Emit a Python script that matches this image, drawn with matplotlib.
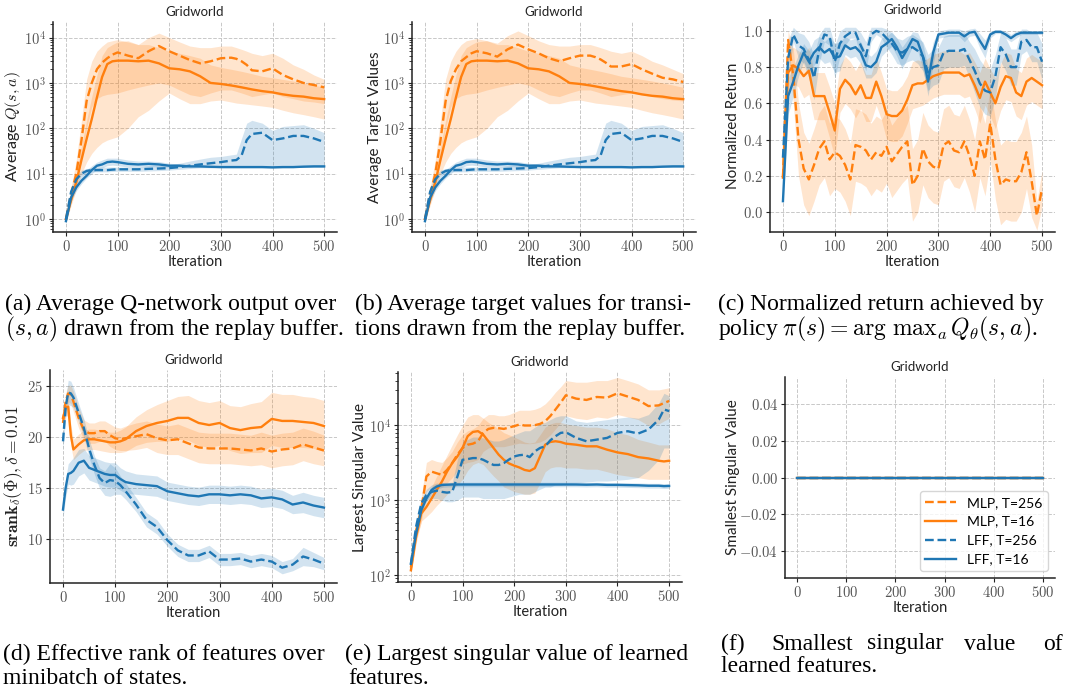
import numpy as np
import matplotlib
matplotlib.use('Agg')
import matplotlib.pyplot as plt
import matplotlib.ticker as ticker

plt.rcParams['font.family'] = ['Lato', 'DejaVu Sans']
plt.rcParams['mathtext.fontset'] = 'cm'

labels = ['MLP, T=256', 'MLP, T=16', 'LFF, T=256', 'LFF, T=16']
colors = ['#ff7f0e', '#ff7f0e', '#1f77b4', '#1f77b4']
styles = ['--', '-', '--', '-']

### (a) / (b) average Q and target values ###
x_q = [0, 10, 20, 30, 40, 50, 60, 70, 80, 90, 100, 120, 140, 160, 180, 200, 220, 240, 260, 280, 300, 320,
       330, 340, 350, 360, 380, 400, 420, 440, 460, 480, 500]

q_mlp256 = [1, 3.5, 10, 54, 400, 1000, 2000, 2800, 3500, 4200, 4700, 4000, 3500, 5000, 6500, 5000, 4000, 3200, 2700, 3000, 3500, 3600,
            3400, 3000, 2500, 1900, 1800, 2100, 1500, 1200, 1000, 900, 800]
q_mlp256_lo = [0.85, 2.5, 5, 20, 100, 300, 450, 520, 560, 580, 600, 700, 800, 900, 1000, 900, 700, 550, 500, 600, 700, 700,
               650, 600, 550, 500, 550, 600, 500, 450, 400, 380, 350]
q_mlp256_hi = [1.2, 5, 20, 150, 1200, 3000, 5000, 6500, 8000, 8500, 9000, 8000, 7000, 10000, 12500, 10000, 8000, 6500, 6000, 6000, 6500, 6500,
               6000, 5500, 5000, 4500, 4000, 4500, 3500, 2500, 2000, 1500, 1200]
q_mlp16 = [1, 2.6, 6.5, 20, 58, 160, 480, 1350, 2600, 3000, 3100, 3100, 3000, 3100, 2700, 2100, 2000, 1800, 1400, 1000, 950, 880,
           840, 800, 760, 720, 660, 620, 560, 520, 500, 460, 440]
q_mlp16_lo = [0.85, 2, 4.5, 10, 18, 28, 38, 48, 55, 60, 65, 100, 180, 250, 400, 600, 450, 350, 350, 400, 420, 380,
              360, 350, 340, 330, 310, 290, 250, 220, 200, 180, 160]
q_mlp16_hi = [1.2, 3.5, 10, 40, 150, 500, 1500, 4000, 6000, 7000, 8000, 8500, 7000, 7000, 6000, 5000, 4500, 4000, 3500, 2500, 2200, 2000,
              1900, 1800, 1700, 1600, 1400, 1300, 1200, 1100, 1000, 900, 800]
q_lff256 = [1, 4, 7.5, 10, 11.5, 12, 12, 12, 12, 12.3, 12.5, 12.5, 12.5, 12.8, 13, 13.3, 14, 15, 16, 17, 18, 19.5,
            20, 25, 55, 75, 80, 55, 60, 68, 68, 60, 50]
q_lff256_lo = [0.85, 3, 6, 9, 10.5, 11, 11, 11, 11, 11.2, 11.3, 11.3, 11.3, 11.5, 11.7, 12, 12.5, 13, 13.5, 13.5, 14, 14,
               14, 14, 14, 14, 14, 14, 14, 14, 14, 14, 14]
q_lff256_hi = [1.2, 5, 9, 12, 13, 13.5, 13.5, 14, 14, 14, 14, 14, 14, 15, 15, 16, 17, 19, 21, 23, 24, 26,
               27, 60, 130, 150, 130, 90, 110, 115, 120, 100, 80]
q_lff16 = [0.9, 3, 5, 7, 9, 12, 15, 16, 18, 18.5, 18, 16.5, 16, 16.5, 16, 15, 15, 14.5, 14.5, 14.2, 14, 14,
           14, 14, 14, 14, 14, 13.8, 14, 14, 14.3, 14.5, 14.5]
q_lff16_lo = [0.8, 2.5, 4.2, 6, 8, 10, 12.5, 13.5, 15, 15.5, 15, 14, 14, 14.5, 14, 14, 14, 13.8, 13.8, 13.6, 13.5, 13.5,
              13.5, 13.5, 13.5, 13.5, 13.5, 13.3, 13.5, 13.5, 13.8, 14, 14]
q_lff16_hi = [1.0, 3.6, 6, 9, 12, 15, 18, 20, 22, 22, 22, 20, 19, 19, 18.5, 17, 16.5, 15.5, 15.2, 15, 14.6, 14.6,
              14.6, 14.6, 14.6, 14.6, 14.6, 14.4, 14.6, 14.6, 14.9, 15, 15]

t_mlp256 = [1, 3.5, 10, 54, 400, 1100, 2000, 3000, 3700, 4500, 5000, 4500, 3800, 5500, 7000, 5500, 4500, 3500, 3000, 3500, 4000, 4000,
            3700, 3300, 2800, 2300, 2300, 2600, 2000, 1600, 1300, 1200, 1050]
t_mlp256_lo = [0.85, 2.5, 5, 20, 100, 300, 450, 520, 560, 580, 600, 700, 800, 900, 1000, 900, 700, 550, 500, 600, 700, 700,
               650, 600, 550, 500, 550, 600, 550, 500, 450, 420, 400]
t_mlp256_hi = [1.2, 5, 20, 150, 1200, 3000, 5000, 7000, 8500, 9000, 9500, 8500, 7500, 11000, 14000, 11000, 8500, 7000, 6500, 6500, 7000, 7000,
               6500, 6000, 5500, 5000, 4500, 5000, 4000, 3000, 2500, 2000, 1600]

### (c) normalized return ###
x_ret = list(range(0, 501, 10))
ret_mlp256 = [0.19, 0.95, 0.75, 0.40, 0.24, 0.18, 0.26, 0.35, 0.39, 0.29, 0.33, 0.31, 0.26, 0.18, 0.37, 0.36, 0.34, 0.29, 0.33, 0.31,
              0.36, 0.28, 0.32, 0.36, 0.39, 0.15, 0.20, 0.35, 0.28, 0.25, 0.24, 0.37, 0.39, 0.34, 0.33, 0.39, 0.31, 0.20, 0.39, 0.29,
              0.49, 0.29, 0.15, 0.18, 0.17, 0.17, 0.22, 0.33, 0.17, -0.02, 0.13]
ret_mlp256_sd = [0.05, 0.05, 0.15, 0.2, 0.2, 0.2, 0.2, 0.2, 0.2, 0.2, 0.2, 0.2, 0.2, 0.2, 0.2, 0.2, 0.2, 0.2, 0.2, 0.2,
                 0.2, 0.2, 0.2, 0.2, 0.2, 0.2, 0.2, 0.2, 0.2, 0.2, 0.2, 0.2, 0.2, 0.2, 0.2, 0.2, 0.2, 0.2, 0.2, 0.2,
                 0.2, 0.22, 0.22, 0.22, 0.22, 0.22, 0.22, 0.2, 0.2, 0.08, 0.1]
ret_mlp16 = [0.19, 0.77, 0.81, 0.79, 0.75, 0.78, 0.64, 0.64, 0.64, 0.55, 0.45, 0.68, 0.73, 0.70, 0.65, 0.70, 0.63, 0.63, 0.72, 0.64,
             0.54, 0.53, 0.53, 0.56, 0.62, 0.70, 0.71, 0.71, 0.73, 0.75, 0.76, 0.77, 0.77, 0.77, 0.77, 0.75, 0.76, 0.70, 0.63, 0.72,
             0.66, 0.60, 0.69, 0.75, 0.74, 0.66, 0.64, 0.72, 0.74, 0.72, 0.70]
ret_mlp16_sd = [0.05, 0.12, 0.1, 0.1, 0.12, 0.13, 0.13, 0.13, 0.13, 0.14, 0.15, 0.13, 0.13, 0.13, 0.13, 0.13, 0.13, 0.13, 0.13, 0.13,
                0.14, 0.14, 0.14, 0.14, 0.13, 0.13, 0.13, 0.12, 0.12, 0.12, 0.12, 0.12, 0.12, 0.12, 0.12, 0.12, 0.12, 0.13, 0.14, 0.13,
                0.13, 0.14, 0.13, 0.13, 0.13, 0.13, 0.13, 0.13, 0.13, 0.13, 0.13]
ret_lff256 = [0.30, 0.85, 0.98, 0.92, 0.90, 0.84, 0.74, 0.90, 0.98, 0.97, 0.83, 0.93, 0.97, 0.99, 0.99, 0.92, 0.86, 0.98, 1.0, 0.99,
              0.96, 0.93, 0.89, 0.88, 0.90, 0.91, 0.89, 0.86, 0.77, 0.80, 0.81, 0.88, 0.89, 0.89, 0.89, 0.90, 0.84, 0.78, 0.71, 0.67,
              0.66, 0.75, 0.91, 0.87, 0.80, 0.80, 0.94, 0.95, 0.91, 0.91, 0.83]
ret_lff256_sd = [0.05, 0.1, 0.04, 0.07, 0.08, 0.1, 0.12, 0.08, 0.04, 0.05, 0.09, 0.07, 0.05, 0.03, 0.03, 0.07, 0.08, 0.04, 0.02, 0.03,
                 0.05, 0.06, 0.07, 0.07, 0.07, 0.07, 0.07, 0.08, 0.1, 0.1, 0.1, 0.09, 0.09, 0.09, 0.09, 0.09, 0.1, 0.12, 0.13, 0.13,
                 0.13, 0.12, 0.08, 0.09, 0.1, 0.1, 0.07, 0.06, 0.08, 0.08, 0.1]
ret_lff16 = [0.06, 0.64, 0.72, 0.81, 0.88, 0.83, 0.88, 0.91, 0.88, 0.90, 0.85, 0.86, 0.92, 0.90, 0.91, 0.88, 0.81, 0.80, 0.83, 0.91,
             0.93, 0.955, 0.91, 0.85, 0.90, 0.955, 0.94, 0.86, 0.72, 0.88, 0.98, 0.985, 0.99, 0.99, 0.99, 0.97, 0.99, 0.995, 0.945, 0.90,
             0.98, 0.995, 0.995, 0.98, 0.96, 0.98, 0.99, 0.99, 0.99, 0.99, 0.99]
ret_lff16_sd = [0.02, 0.1, 0.08, 0.06, 0.05, 0.06, 0.07, 0.06, 0.06, 0.07, 0.08, 0.08, 0.05, 0.05, 0.05, 0.06, 0.07, 0.06, 0.06, 0.05,
                0.04, 0.04, 0.05, 0.06, 0.05, 0.04, 0.05, 0.07, 0.08, 0.06, 0.02, 0.02, 0.02, 0.02, 0.02, 0.03, 0.02, 0.02, 0.04, 0.05,
                0.02, 0.01, 0.01, 0.02, 0.02, 0.02, 0.01, 0.01, 0.01, 0.01, 0.01]

### (d) effective rank ###
x_rank = [0, 5, 10, 15, 20, 30, 40, 50, 60, 70, 80, 90, 100, 110, 120, 140, 160, 180, 200, 220, 240, 260, 280, 300,
          320, 340, 360, 380, 400, 420, 440, 460, 480, 500]
rank_mlp256 = [21.4, 23.5, 24.3, 24.2, 23.5, 21.9, 20.7, 20.4, 20.4, 20.6, 20.6, 20.2, 19.9, 19.8, 19.9, 20.1, 20.3, 19.9, 19.7, 19.8, 19.4, 19.0, 18.9, 18.9,
               18.9, 18.8, 18.7, 18.9, 18.6, 18.8, 18.9, 19.3, 19.0, 18.7]
rank_mlp256_sd = [0.8, 0.8, 0.8, 0.9, 1.0, 1.0, 1.0, 1.0, 1.0, 1.0, 1.0, 1.1, 1.1, 1.1, 1.2, 1.3, 1.3, 1.4, 1.4, 1.5, 1.5, 1.5, 1.5, 1.5,
                  1.5, 1.5, 1.5, 1.6, 1.6, 1.6, 1.6, 1.6, 1.6, 1.5]
rank_mlp16 = [21.9, 22.9, 23.0, 20.2, 18.8, 19.3, 19.7, 19.8, 19.8, 19.7, 19.6, 19.5, 19.5, 19.6, 19.8, 20.6, 21.1, 21.4, 21.6, 21.9, 21.9, 21.4, 21.2, 21.4,
              20.9, 20.7, 20.9, 21.0, 21.8, 21.6, 21.6, 21.5, 21.4, 21.1]
rank_mlp16_sd = [0.8, 0.8, 0.9, 1.0, 1.0, 1.0, 1.0, 1.0, 1.0, 1.0, 1.0, 1.0, 1.0, 1.1, 1.2, 1.4, 1.6, 1.8, 2.0, 2.1, 2.2, 2.2, 2.2, 2.2,
                 2.2, 2.3, 2.4, 2.5, 2.6, 2.6, 2.6, 2.5, 2.5, 2.5]
rank_lff256 = [19.6, 22.9, 24.4, 24.3, 23.9, 22.4, 20.9, 18.9, 17.3, 16.0, 15.5, 15.8, 15.7, 15.3, 14.7, 13.4, 11.9, 11.2, 9.9, 8.9, 8.4, 8.4, 8.8, 8.0,
               8.0, 8.1, 7.8, 8.0, 7.8, 7.2, 7.5, 8.3, 8.0, 7.6]
rank_lff256_sd = [0.8, 1.0, 1.2, 1.2, 1.0, 0.9, 0.9, 0.9, 0.9, 1.0, 1.2, 1.6, 1.3, 0.9, 0.8, 0.7, 0.7, 0.7, 0.6, 0.6, 0.6, 0.6, 0.6, 0.6,
                  0.6, 0.6, 0.6, 0.6, 0.6, 0.6, 0.6, 0.9, 0.7, 0.6]
rank_lff16 = [12.9, 15.0, 16.4, 16.5, 16.7, 17.5, 17.7, 17.0, 16.8, 16.6, 16.4, 16.3, 16.3, 15.9, 15.6, 15.4, 15.3, 15.2, 14.7, 14.5, 14.3, 14.2, 14.4, 14.4,
              14.3, 14.4, 14.3, 14.0, 14.1, 13.9, 13.4, 13.6, 13.3, 13.1]
rank_lff16_sd = [0.8, 0.9, 1.0, 1.2, 1.3, 1.3, 1.2, 1.2, 1.2, 1.2, 1.2, 1.2, 1.2, 1.1, 1.1, 1.0, 1.0, 1.0, 0.9, 0.9, 0.9, 0.9, 0.9, 0.9,
                 0.9, 0.9, 0.9, 0.9, 0.9, 0.9, 0.9, 1.0, 1.0, 1.0]

### (e) largest singular value ###
x_sv = [0, 10, 20, 30, 40, 50, 60, 70, 80, 90, 100, 110, 120, 130, 140, 150, 160, 170, 180, 190, 200, 210, 220, 230, 240, 250,
        260, 270, 280, 290, 300, 320, 340, 360, 380, 400, 420, 440, 460, 480, 490, 500]
sv_mlp256 = [125, 390, 730, 2070, 2410, 2290, 2180, 2540, 3140, 4060, 5000, 5530, 5710, 6150, 7960, 9000, 9300, 9200, 9000, 9400, 9800, 10300, 10000, 10000, 10100, 10500,
             11400, 13400, 16400, 20200, 25400, 22900, 22000, 24100, 23600, 27000, 24400, 22000, 18200, 18600, 20000, 21300]
sv_mlp256_lo = [110, 300, 500, 1300, 1500, 1500, 1500, 1700, 2000, 2500, 3000, 3200, 3300, 3500, 4500, 5000, 5200, 5200, 5200, 5400, 5600, 5800, 5700, 5700, 5800, 6000,
                6500, 7500, 9000, 11000, 13500, 12500, 12000, 13000, 12500, 14000, 13000, 12000, 10000, 10500, 11500, 12500]
sv_mlp256_hi = [140, 500, 1100, 3200, 3500, 3300, 3200, 3700, 4500, 6000, 7500, 8500, 9000, 10000, 12500, 14000, 14000, 13500, 13500, 14000, 15000, 16000, 16000, 16000, 16500, 17500,
                19500, 23000, 28000, 33000, 40000, 38000, 38000, 40000, 40000, 44000, 40000, 36000, 30000, 30000, 31000, 32000]
sv_mlp16 = [115, 320, 660, 810, 1050, 1370, 1770, 2410, 3140, 3850, 5000, 7200, 8200, 8400, 7550, 6150, 5000, 4060, 3470, 3100, 2900, 2740, 2540, 2460, 2680, 3850,
            5530, 6020, 6150, 6000, 5710, 5530, 5260, 5260, 4740, 4360, 4140, 3770, 3620, 3370, 3300, 3370]
sv_mlp16_lo = [100, 260, 520, 600, 700, 850, 1000, 1200, 1400, 1600, 1900, 2500, 3000, 3200, 3000, 2500, 2100, 1800, 1500, 1400, 1300, 1250, 1200, 1200, 1250, 1700,
               2400, 2700, 2800, 2800, 2700, 2700, 2600, 2600, 2400, 2200, 2100, 2000, 1900, 1900, 1900, 1900]
sv_mlp16_hi = [130, 400, 820, 1100, 1500, 2100, 2900, 4000, 5500, 7500, 10000, 13000, 14000, 14000, 12500, 11000, 10000, 9000, 8000, 7500, 7000, 6500, 6000, 5800, 6000, 7500,
               9500, 10500, 11000, 11000, 10500, 10000, 9500, 9500, 9000, 8000, 7500, 6500, 6000, 5500, 5500, 5500]
sv_lff256 = [140, 440, 900, 1170, 1290, 1340, 1290, 1260, 1290, 2070, 3470, 3550, 3660, 3660, 3470, 3200, 2960, 2960, 3140, 3500, 3850, 4000, 4060, 3770, 4500, 5000,
             5260, 6330, 7180, 7960, 8120, 6820, 6150, 6470, 6820, 7960, 8380, 7800, 8830, 12000, 16400, 15600]
sv_lff256_lo = [125, 380, 780, 1000, 1050, 1050, 1000, 950, 950, 1000, 1100, 1100, 1100, 1100, 1050, 1050, 1050, 1050, 1050, 1100, 1150, 1200, 1200, 1200, 1300, 1400,
                1500, 1500, 1600, 1600, 1650, 1700, 1750, 1800, 1800, 1850, 1900, 2000, 2500, 3500, 5000, 5000]
sv_lff256_hi = [160, 500, 1050, 1400, 1600, 1700, 1650, 1650, 1700, 3500, 6000, 6500, 7000, 7000, 6800, 6500, 6200, 6200, 6500, 7000, 7500, 8000, 8500, 8500, 9500, 10500,
                11000, 12000, 13000, 13500, 13500, 11500, 11000, 11500, 12000, 12500, 13000, 12500, 14000, 20000, 27000, 25000]
sv_lff16 = [140, 355, 730, 1050, 1370, 1520, 1600, 1610, 1620, 1620, 1620, 1620, 1620, 1620, 1620, 1620, 1620, 1620, 1620, 1620, 1620, 1620, 1620, 1620, 1620, 1620,
            1620, 1620, 1620, 1620, 1620, 1620, 1610, 1620, 1600, 1600, 1590, 1580, 1560, 1560, 1540, 1550]
sv_lff16_lo = [125, 320, 660, 950, 1250, 1400, 1480, 1500, 1510, 1510, 1510, 1510, 1510, 1510, 1510, 1510, 1510, 1510, 1510, 1510, 1510, 1510, 1510, 1510, 1510, 1510,
               1510, 1510, 1510, 1510, 1510, 1510, 1500, 1510, 1490, 1490, 1480, 1470, 1450, 1450, 1430, 1440]
sv_lff16_hi = [160, 400, 800, 1150, 1500, 1650, 1720, 1730, 1740, 1740, 1740, 1740, 1740, 1740, 1740, 1740, 1740, 1740, 1740, 1740, 1740, 1740, 1740, 1740, 1740, 1740,
               1740, 1740, 1740, 1740, 1740, 1740, 1730, 1740, 1720, 1720, 1710, 1700, 1680, 1680, 1660, 1670]

### (f) smallest singular value ###
x_min = [0, 500]
min_sv = [0.0, 0.0]


def panel(ax, x, runs, ylabel, labelx, log=False, ylabel_size=11):
    for (mean, lo, hi), lab, c, ls in zip(runs, labels, colors, styles):
        ax.fill_between(x, lo, hi, color=c, alpha=0.2, lw=0)
        ax.plot(x, mean, color=c, ls=ls, lw=1.7, label=lab)
    if log:
        ax.set_yscale('log')
        ax.yaxis.set_major_formatter(ticker.FuncFormatter(lambda v, p: r'$10^{%d}$' % round(np.log10(v))))
        ax.yaxis.set_minor_formatter(ticker.NullFormatter())
    ax.set_xlim(-25, 525)
    ax.xaxis.set_major_locator(ticker.MultipleLocator(100))
    ax.xaxis.set_major_formatter(ticker.FuncFormatter(lambda v, p: r'$%d$' % v))
    ax.grid(True, which='major', ls='--', lw=0.7, color='#c8c8c8')
    ax.set_axisbelow(True)
    for s in ['top', 'right']:
        ax.spines[s].set_visible(False)
    for s in ['left', 'bottom']:
        ax.spines[s].set_color('#222222')
        ax.spines[s].set_linewidth(1.1)
    ax.tick_params(labelsize=10.5, labelcolor='#555555', color='#222222', length=3, pad=2)
    ax.tick_params(which='minor', length=2, color='#222222')
    ax.set_title('Gridworld', fontsize=9.5, color='#222222', pad=4)
    ax.set_xlabel('Iteration', fontsize=10.5, color='#222222', labelpad=1)
    ax.set_ylabel(ylabel, fontsize=ylabel_size, color='#222222')
    ax.yaxis.set_label_coords(labelx, 0.5)


def sd_band(mean, sd):
    return np.array(mean) - np.array(sd), np.array(mean) + np.array(sd)


fig = plt.figure(figsize=(10.65, 6.9), dpi=100)

ax = fig.add_axes([0.0498, 0.6638, 0.2667, 0.3043])
panel(ax, x_q, [(q_mlp256, q_mlp256_lo, q_mlp256_hi), (q_mlp16, q_mlp16_lo, q_mlp16_hi),
                (q_lff256, q_lff256_lo, q_lff256_hi), (q_lff16, q_lff16_lo, q_lff16_hi)],
      'Average $Q(s,a)$', -0.105, log=True, ylabel_size=11.5)
ax.set_ylim(0.52, 2.2e4)

ax = fig.add_axes([0.3869, 0.6638, 0.2667, 0.3043])
panel(ax, x_q, [(t_mlp256, t_mlp256_lo, t_mlp256_hi), (q_mlp16, q_mlp16_lo, q_mlp16_hi),
                (q_lff256, q_lff256_lo, q_lff256_hi), (q_lff16, q_lff16_lo, q_lff16_hi)],
      'Average Target Values', -0.105, log=True)
ax.set_ylim(0.52, 2.2e4)

ax = fig.add_axes([0.7230, 0.6638, 0.2676, 0.3072])
panel(ax, x_ret, [(ret_mlp256, *sd_band(ret_mlp256, ret_mlp256_sd)), (ret_mlp16, *sd_band(ret_mlp16, ret_mlp16_sd)),
                  (ret_lff256, *sd_band(ret_lff256, ret_lff256_sd)), (ret_lff16, *sd_band(ret_lff16, ret_lff16_sd))],
      'Normalized Return', -0.105)
ax.set_ylim(-0.11, 1.06)
ax.yaxis.set_major_locator(ticker.MultipleLocator(0.2))
ax.yaxis.set_major_formatter(ticker.FuncFormatter(lambda v, p: r'$%.1f$' % v))

ax = fig.add_axes([0.0469, 0.1551, 0.2695, 0.3087])
panel(ax, x_rank, [(rank_mlp256, *sd_band(rank_mlp256, rank_mlp256_sd)), (rank_mlp16, *sd_band(rank_mlp16, rank_mlp16_sd)),
                   (rank_lff256, *sd_band(rank_lff256, rank_lff256_sd)), (rank_lff16, *sd_band(rank_lff16, rank_lff16_sd))],
      r'$\mathbf{srank}_\delta(\Phi),\delta=0.01$', -0.088, ylabel_size=12.5)
ax.set_ylim(5.7, 26.6)
ax.yaxis.set_major_locator(ticker.MultipleLocator(5))
ax.yaxis.set_major_formatter(ticker.FuncFormatter(lambda v, p: r'$%d$' % v))

ax = fig.add_axes([0.3737, 0.1565, 0.2667, 0.3043])
panel(ax, x_sv, [(sv_mlp256, sv_mlp256_lo, sv_mlp256_hi), (sv_mlp16, sv_mlp16_lo, sv_mlp16_hi),
                 (sv_lff256, sv_lff256_lo, sv_lff256_hi), (sv_lff16, sv_lff16_lo, sv_lff16_hi)],
      'Largest Singular Value', -0.11, log=True)
ax.set_ylim(80, 5.2e4)

ax = fig.add_axes([0.7371, 0.1623, 0.2535, 0.2913])
panel(ax, x_min, [(min_sv, min_sv, min_sv)] * 4, 'Smallest Singular Value', -0.165)
ax.set_ylim(-0.055, 0.055)
ax.yaxis.set_major_locator(ticker.MultipleLocator(0.02))
ax.yaxis.set_major_formatter(ticker.FuncFormatter(lambda v, p: r'$%.2f$' % (0 if abs(v) < 1e-9 else v)))
ax.legend(loc='lower right', fontsize=10, handlelength=2.2, frameon=True, fancybox=True,
          edgecolor='#cccccc', borderaxespad=0.5)

### captions ###
cap = dict(fontsize=17, family='Liberation Serif', va='center', ha='left', color='black')
W, H = 1065, 690


def caption(px, py, s):
    fig.text(px / W, 1 - py / H, s, **cap)


caption(5, 304, '(a) Average Q-network output over')
caption(5, 329, '$(s,a)$ drawn from the replay buffer.')
caption(355, 304, '(b) Average target values for transi-')
caption(355, 329, 'tions drawn from the replay buffer.')
caption(718, 304, '(c) Normalized return achieved by')
caption(718, 329, r'policy $\pi(s) = \arg\,\mathrm{max}_a\, Q_\theta(s,a)$.')
caption(3, 654, '(d) Effective rank of features over')
caption(3, 678, 'minibatch of states.')
caption(345, 654, '(e) Largest singular value of learned')
caption(348, 678, 'features.')
for px, w in zip([721, 771, 867, 964, 1043], ['(f)', 'Smallest', 'singular', 'value', 'of']):
    caption(px, 644, w)
caption(721, 667, 'learned features.')

fig.savefig('out.png', dpi=100)
